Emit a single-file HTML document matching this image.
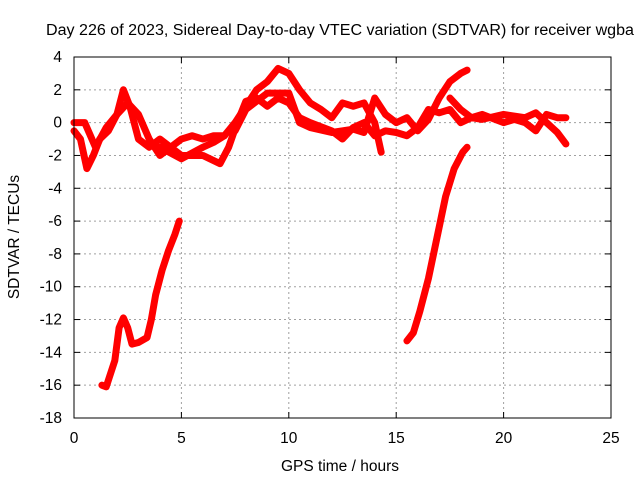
<!DOCTYPE html>
<html><head><meta charset="utf-8"><style>
body{margin:0;background:#fff}
svg{font-family:"Liberation Sans",sans-serif;font-size:15.5px}
</style></head><body>
<svg width="640" height="480">
<text x="340" y="35" text-anchor="middle" textLength="588" lengthAdjust="spacingAndGlyphs">Day 226 of 2023, Sidereal Day-to-day VTEC variation (SDTVAR) for receiver wgba</text>
<g id="grid"></g>
<g id="axes"></g>
<g id="series"></g>
<rect x="74" y="57" width="537" height="361" fill="none" stroke="#000"/>
<text x="340" y="471" text-anchor="middle">GPS time / hours</text>
<text transform="translate(19,237) rotate(-90)" text-anchor="middle">SDTVAR / TECUs</text>
</svg>
<script>
const xTicks=[0,5,10,15,20,25];
const yTicks=[4,2,0,-2,-4,-6,-8,-10,-12,-14,-16,-18];
const trackA=[[1.3,-16],[1.5,-16.1],[1.7,-15.3],[1.9,-14.5],[2.1,-12.5],[2.3,-11.9],[2.5,-12.5],[2.7,-13.5],[3.0,-13.4],[3.4,-13.1],[3.6,-12],[3.8,-10.5],[4.1,-9],[4.4,-7.8],[4.7,-6.8],[4.9,-6]];
const trackB=[[15.5,-13.3],[15.8,-12.8],[16.1,-11.5],[16.5,-9.5],[16.9,-7],[17.3,-4.5],[17.7,-2.8],[18.1,-1.8],[18.3,-1.5]];
const trackC1=[[0,-0.5],[0.3,-1],[0.6,-2.8],[0.9,-2],[1.2,-1],[1.6,-0.5],[2.0,0.5],[2.3,2],[2.6,1],[3,-1],[3.5,-1.5],[4,-1],[4.5,-1.5],[5,-2],[6,-2],[6.8,-2.5],[7.2,-1.5],[7.6,0],[8,1.3],[8.5,1.5],[9,1],[9.5,1.5],[10,1.2],[10.5,0.3],[11,0],[12,-0.5],[12.5,-1],[13,-0.3],[13.5,0],[14,-0.8],[14.5,-0.5],[15,-0.6],[15.5,-0.8],[16,-0.3],[16.5,0.8],[17,0.6],[17.5,0.8],[18,0],[18.5,0.3],[19,0.2],[20,0.5],[21,0.3],[21.5,0.6],[22,0],[22.5,-0.6],[22.9,-1.3]];
const trackC2=[[0,0],[0.5,0],[1,-1.5],[1.5,-0.3],[2,0.5],[2.5,1.2],[3,0.5],[3.5,-1],[4,-2],[5,-1],[5.5,-0.8],[6,-1],[6.5,-0.8],[7,-0.8],[7.5,0],[8,1],[8.5,2],[9,2.5],[9.5,3.3],[10,3],[10.5,2],[11,1.2],[11.5,0.8],[12,0.3],[12.5,1.2],[13,1],[13.5,1.2],[14,0],[14.3,-1.8]];
const trackC3=[[7.5,-0.5],[8,0.8],[9,1.8],[10,1.8],[10.5,0],[11,-0.3],[12,-0.6],[13,-0.4],[13.5,-0.6],[14,1.5],[14.5,0.5],[15,0],[15.5,0.3],[16,-0.5],[16.5,0.2],[17,1.5],[17.5,2.5],[18,3],[18.3,3.2]];
const trackC4=[[17.5,1.5],[18,0.8],[18.5,0.3],[19,0.5],[20,0],[20.5,0.2],[21,0],[21.5,-0.5],[22,0.5],[22.5,0.3],[22.9,0.3]];
const trackC5=[[4,-1.5],[5,-2.2],[6,-1.5],[6.5,-1.2],[7,-0.8]];
const NS="http://www.w3.org/2000/svg";
const X=v=>74+v*(537/25), Y=v=>57+(4-v)*(361/22);
const grid=document.getElementById('grid'),axes=document.getElementById('axes'),ser=document.getElementById('series');
function mk(t,a,p){const e=document.createElementNS(NS,t);for(const k in a)e.setAttribute(k,a[k]);p.appendChild(e);return e;}
xTicks.forEach(t=>{const x=X(t);
 if(t>0&&t<25){const l=mk('line',{x1:x,x2:x,y1:57,y2:418,stroke:'#a0a0a0','stroke-dasharray':'2,3'},grid);}
 mk('line',{x1:x,x2:x,y1:418,y2:412,stroke:'#000'},axes);mk('line',{x1:x,x2:x,y1:57,y2:63,stroke:'#000'},axes);
 const tx=mk('text',{x:x,y:443,'text-anchor':'middle'},axes);tx.textContent=t;
 });
yTicks.forEach(t=>{const y=Y(t);
 if(t<4&&t>-18){const l=mk('line',{x1:74,x2:611,y1:y,y2:y,stroke:'#a0a0a0','stroke-dasharray':'2,3'},grid);}
 mk('line',{x1:74,x2:80,y1:y,y2:y,stroke:'#000'},axes);mk('line',{x1:611,x2:605,y1:y,y2:y,stroke:'#000'},axes);
 const tx=mk('text',{x:62,y:y+5,'text-anchor':'end'},axes);tx.textContent=t;
 });
[trackA,trackB,trackC1,trackC2,trackC3,trackC4,trackC5].forEach(tr=>{
 const p=mk('polyline',{points:tr.map(d=>X(d[0])+','+Y(d[1])).join(' '),fill:'none',stroke:'#ff0000','stroke-width':7,'stroke-linejoin':'round','stroke-linecap':'round'},ser);
 
 });
</script>
</body></html>
